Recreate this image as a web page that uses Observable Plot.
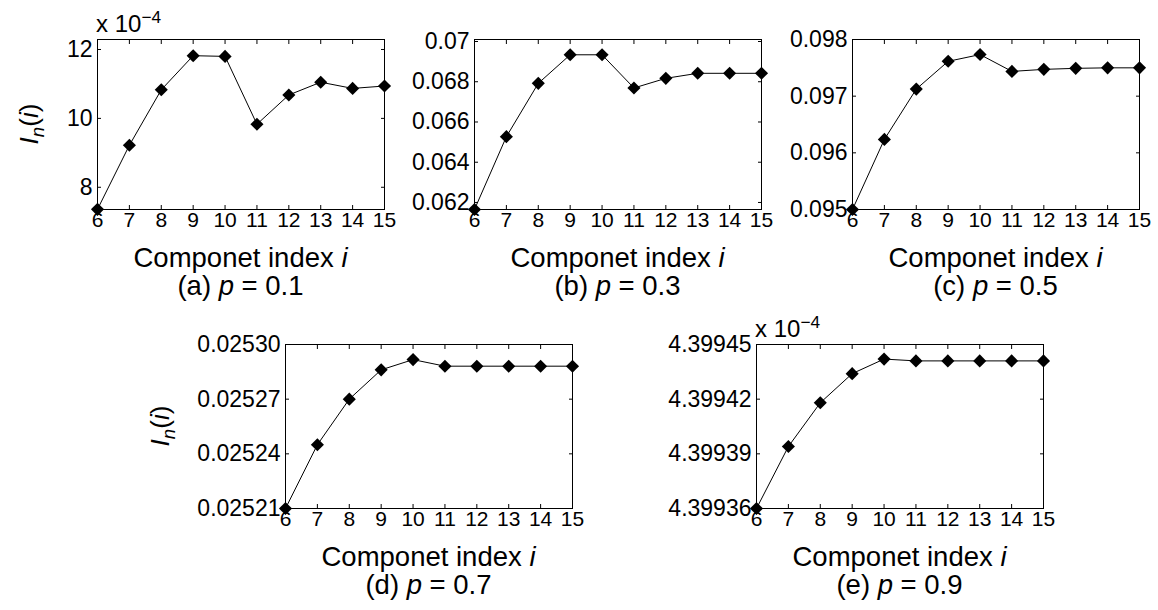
<!DOCTYPE html>
<html>
<head>
<meta charset="utf-8">
<script src="https://cdn.jsdelivr.net/npm/d3@7"></script>
<script src="https://cdn.jsdelivr.net/npm/@observablehq/plot@0.6"></script>
<style>
  body { margin: 0; background: #fff; }
  #wrap { position: relative; width: 1158px; height: 610px; overflow: hidden;
          font-family: "Liberation Sans", Arial, Helvetica, sans-serif; color: #000; background: #fff; }
  .lbl { position: absolute; white-space: nowrap; line-height: 1; }
  .chart { position: absolute; }
  .ylab { position: absolute; white-space: nowrap; line-height: 1; font-size: 26px;
          transform: translate(-50%, -50%) rotate(-90deg); }
  .ylab sub { font-size: 0.72em; vertical-align: -0.32em; line-height: 0; }
  .expo sup { font-size: 0.72em; vertical-align: 0.55em; line-height: 0; }
</style>
</head>
<body>
<div id="wrap"></div>
<script>
// ---- data ----
const componentIndex = [6, 7, 8, 9, 10, 11, 12, 13, 14, 15];

// (a) p = 0.1, values in units of 1e-4
const In_p01 = [7.36, 9.22, 10.83, 11.82, 11.80, 9.83, 10.68, 11.05, 10.87, 10.94];
// (b) p = 0.3
const In_p03 = [0.06165, 0.06527, 0.06792, 0.06934, 0.06934, 0.06769, 0.06817, 0.06842, 0.06842, 0.06842];
// (c) p = 0.5
const In_p05 = [0.09500, 0.096237, 0.097125, 0.097615, 0.097734, 0.097437, 0.097473, 0.097491, 0.097500, 0.097500];
// (d) p = 0.7
const In_p07 = [0.025210, 0.025245, 0.025270, 0.0252861, 0.0252917, 0.0252881, 0.0252881, 0.0252881, 0.0252881, 0.0252881];
// (e) p = 0.9, values in units of 1e-4
const In_p09 = [4.39936, 4.399394, 4.399418, 4.399434, 4.399442, 4.399441, 4.399441, 4.399441, 4.399441, 4.399441];

const yTicks_p01 = [8, 10, 12];
const yTickLabels_p01 = ["8", "10", "12"];
const yTicks_p03 = [0.062, 0.064, 0.066, 0.068, 0.07];
const yTickLabels_p03 = ["0.062", "0.064", "0.066", "0.068", "0.07"];
const yTicks_p05 = [0.095, 0.096, 0.097, 0.098];
const yTickLabels_p05 = ["0.095", "0.096", "0.097", "0.098"];
const yTicks_p07 = [0.02521, 0.02524, 0.02527, 0.0253];
const yTickLabels_p07 = ["0.02521", "0.02524", "0.02527", "0.02530"];
const yTicks_p09 = [4.39936, 4.39939, 4.39942, 4.39945];
const yTickLabels_p09 = ["4.39936", "4.39939", "4.39942", "4.39945"];

const yLimits_p01 = [7.355, 12.29];
const yLimits_p03 = [0.06165, 0.0701];
const yLimits_p05 = [0.095, 0.098];
const yLimits_p07 = [0.02521, 0.0253];
const yLimits_p09 = [4.39936, 4.39945];

const panelLetters = ["(a)", "(b)", "(c)", "(d)", "(e)"];
const pValues = ["0.1", "0.3", "0.5", "0.7", "0.9"];
const xLabelText = "Componet index";

// ---- layout ----
const W = 287, ML = 100, MR = 14, MT = 14, MB = 40;
const FONT = '"Liberation Sans", Arial, Helvetica, sans-serif';
const panels = [
  {values: In_p01, ticks: yTicks_p01, labels: yTickLabels_p01, lim: yLimits_p01, left: 97,  top: 39,  h: 170, ylab: 29,  exp: true},
  {values: In_p03, ticks: yTicks_p03, labels: yTickLabels_p03, lim: yLimits_p03, left: 474, top: 39,  h: 170},
  {values: In_p05, ticks: yTicks_p05, labels: yTickLabels_p05, lim: yLimits_p05, left: 852, top: 39,  h: 170},
  {values: In_p07, ticks: yTicks_p07, labels: yTickLabels_p07, lim: yLimits_p07, left: 285, top: 344, h: 164, ylab: 160},
  {values: In_p09, ticks: yTicks_p09, labels: yTickLabels_p09, lim: yLimits_p09, left: 756, top: 344, h: 164, exp: true}
];

const wrap = document.getElementById("wrap");

function addLabel(html, cx, baseline, size, cls) {
  const d = document.createElement("div");
  d.className = "lbl" + (cls ? " " + cls : "");
  d.style.fontSize = size + "px";
  d.innerHTML = html;
  wrap.appendChild(d);
  const w = d.getBoundingClientRect().width;
  d.style.left = (cx - w / 2) + "px";
  d.style.top = (baseline - 0.846 * size) + "px";
  return d;
}

panels.forEach((p, k) => {
  const data = componentIndex.map((i, j) => ({i, v: p.values[j]}));
  const fmt = d => p.labels[p.ticks.indexOf(d)];
  const chart = Plot.plot({
    width: ML + W + MR,
    height: MT + p.h + MB,
    marginLeft: ML, marginRight: MR, marginTop: MT, marginBottom: MB,
    style: {fontFamily: FONT, fontSize: "22px", background: "transparent", overflow: "visible", color: "#000"},
    x: {domain: [6, 15]},
    y: {domain: p.lim},
    marks: [
      Plot.frame({stroke: "#000", strokeWidth: 1}),
      Plot.axisX({anchor: "bottom", ticks: componentIndex, tickSize: -4, tickPadding: 7, label: null, fontSize: 21, tickFormat: d => String(d)}),
      Plot.axisX({anchor: "top", ticks: componentIndex, tickSize: -4, label: null, tickFormat: () => ""}),
      Plot.axisY({anchor: "left", ticks: p.ticks, tickSize: -4, tickPadding: 9, label: null, fontSize: 23, tickFormat: fmt}),
      Plot.axisY({anchor: "right", ticks: p.ticks, tickSize: -4, label: null, tickFormat: () => ""}),
      Plot.line(data, {x: "i", y: "v", stroke: "#000", strokeWidth: 1}),
      Plot.dot(data, {x: "i", y: "v", symbol: "diamond2", r: 5.9, fill: "#000", stroke: "none"})
    ]
  });
  chart.classList.add("chart");
  chart.style.left = (p.left - ML) + "px";
  chart.style.top = (p.top - MT) + "px";
  wrap.appendChild(chart);

  const cx = p.left + W / 2;
  const bottom = p.top + p.h;
  addLabel(xLabelText + " <i>i</i>", cx, bottom + 58, 27.5);
  addLabel(panelLetters[k] + " <i>p</i> = " + pValues[k], cx, bottom + 86, 27.5);

  if (p.ylab) {
    const y = document.createElement("div");
    y.className = "ylab";
    y.innerHTML = "<i>I</i><sub><i>n</i></sub>(<i>i</i>)";
    y.style.left = p.ylab + "px";
    y.style.top = (p.top + p.h / 2) + "px";
    wrap.appendChild(y);
  }
  if (p.exp) {
    const e = document.createElement("div");
    e.className = "lbl expo";
    e.style.fontSize = "24px";
    e.innerHTML = "x 10<sup>\u22124</sup>";
    e.style.left = (p.left - 1) + "px";
    e.style.top = (p.top - 7 - 0.846 * 24) + "px";
    wrap.appendChild(e);
  }
});
</script>
</body>
</html>
